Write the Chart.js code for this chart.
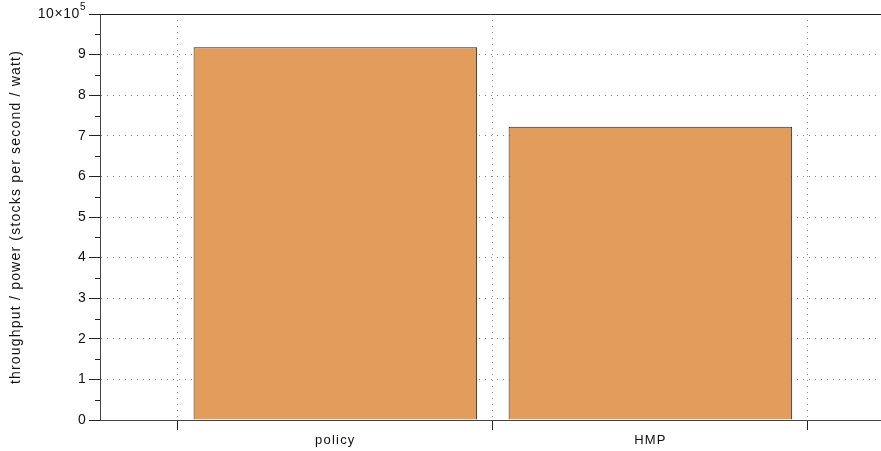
<!DOCTYPE html>
<html>
<head>
<meta charset="utf-8">
<script src="https://cdn.jsdelivr.net/npm/chart.js@4.4.0/dist/chart.umd.min.js"></script>
<style>
  html,body{margin:0;padding:0;background:#fff;}
  canvas{display:block;}
</style>
</head>
<body>
<canvas id="c" width="881" height="451"></canvas>
<script>
// bar values (stocks per second / watt)
const categories = ['policy', 'HMP'];
const throughputPerWatt = [918000, 722000];
const yTicks = [0, 1, 2, 3, 4, 5, 6, 7, 8, 9, 10]; // in units of 10^5
const yExponent = 5;

const FONT = 'Liberation Sans, Arial, Helvetica, sans-serif';
const xMin = 0.253, xMax = 2.732;
const edges = categories.map((_, i) => i + 0.5).concat([categories.length + 0.5]);

// minor y ticks, top frame line and the "10×10^5" label with a real superscript
const frame = {
  id: 'frame',
  beforeDraw(chart) {
    chart.ctx.letterSpacing = '1.2px';
  },
  afterDraw(chart) {
    const {ctx, chartArea: a} = chart;
    const y = chart.scales.y;
    ctx.save();
    ctx.strokeStyle = '#222';
    ctx.lineWidth = 1;
    ctx.beginPath();
    for (let i = 0; i < yTicks.length - 1; i++) {
      const py = Math.round(y.getPixelForValue((yTicks[i] + 0.5) * 1e5)) + 0.5;
      ctx.moveTo(a.left - 5, py);
      ctx.lineTo(a.left, py);
    }
    ctx.moveTo(a.left, a.top + 0.5);
    ctx.lineTo(a.right, a.top + 0.5);
    ctx.stroke();

    const top = yTicks[yTicks.length - 1];
    const ty = y.getPixelForValue(top * 1e5);
    const tx = a.left - 20;
    ctx.fillStyle = '#111';
    ctx.letterSpacing = '0.6px';
    ctx.font = '14px ' + FONT;
    ctx.textAlign = 'right';
    ctx.textBaseline = 'middle';
    ctx.fillText(top + '×10', tx, ty);
    ctx.font = '10px ' + FONT;
    ctx.textAlign = 'left';
    ctx.textBaseline = 'alphabetic';
    ctx.fillText(String(yExponent), tx, ty - 4);
    ctx.restore();
  }
};

new Chart(document.getElementById('c'), {
  type: 'bar',
  data: {
    datasets: [{
      data: categories.map((c, i) => ({x: i + 1, y: throughputPerWatt[i]})),
      backgroundColor: '#e29c5b',
      borderColor: '#222',
      borderWidth: 1,
      barPercentage: 0.9,
      categoryPercentage: 1.0
    }]
  },
  options: {
    responsive: false,
    animation: false,
    devicePixelRatio: 1,
    layout: {padding: {top: 14, right: 0, left: 0, bottom: 0}},
    plugins: {legend: {display: false}, tooltip: {enabled: false}},
    scales: {
      x: {
        type: 'linear',
        position: 'bottom',
        min: xMin, max: xMax,
        offset: false,
        afterBuildTicks: s => { s.ticks = edges.map(v => ({value: v})); },
        ticks: {display: false},
        grid: {offset: false, color: '#888', tickColor: '#222', tickLength: 10, tickBorderDash: [], lineWidth: 1},
        border: {display: true, color: '#444', width: 1, dash: [1, 5]},
        afterFit: s => { s.height = 10; }
      },
      xl: {
        type: 'linear',
        position: 'bottom',
        min: xMin, max: xMax,
        offset: false,
        afterBuildTicks: s => { s.ticks = categories.map((_, i) => ({value: i + 1})); },
        ticks: {
          color: '#111', padding: 3,
          font: {family: FONT, size: 13},
          callback: v => categories[Math.round(v) - 1],
          maxRotation: 0, autoSkip: false
        },
        grid: {display: false, drawTicks: false},
        border: {display: false},
        afterFit: s => { s.height = 21; }
      },
      y: {
        min: 0, max: 1e6,
        afterBuildTicks: s => { s.ticks = yTicks.map(v => ({value: v * 1e5})); },
        ticks: {
          color: '#111', padding: 2, autoSkip: false,
          font: {family: FONT, size: 14},
          callback: v => { const n = Math.round(v / 1e5); return n === yTicks[yTicks.length - 1] ? '' : String(n); }
        },
        grid: {color: '#888', tickColor: '#222', tickLength: 11, tickBorderDash: [], lineWidth: 1},
        border: {display: true, color: '#444', width: 1, dash: [1, 5]},
        title: {
          display: true,
          text: 'throughput / power (stocks per second / watt)',
          color: '#111',
          font: {family: FONT, size: 14},
          padding: {top: 8, bottom: 0}
        },
        afterFit: s => { s.width = 100; }
      }
    }
  },
  plugins: [frame]
});
</script>
</body>
</html>
